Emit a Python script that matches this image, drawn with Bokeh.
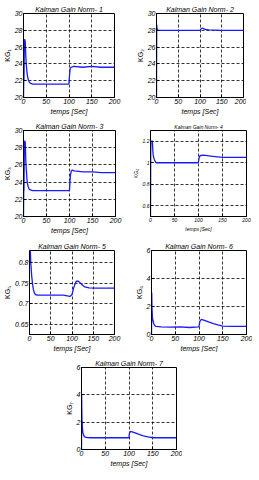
from bokeh.plotting import figure
from bokeh.layouts import column, row
from bokeh.models import FixedTicker, Range1d
from bokeh.embed import file_html
from bokeh.resources import INLINE

# ---- data ----
x_ticks = [0, 50, 100, 150, 200]
x_label = "temps [Sec]"

t1 = [0, 0.5, 1, 2, 3, 4, 5, 6, 8, 10, 12, 15, 20, 30, 50, 70, 90, 99, 100, 101, 102, 103, 105, 110, 130, 150, 170, 200]
kg1 = [20.0, 21.9, 22.0, 26.9, 26.9, 26.5, 25.0, 24.0, 22.8, 22.2, 21.9, 21.7, 21.6, 21.6, 21.6, 21.6, 21.6, 21.6, 21.7, 22.5, 23.2, 23.5, 23.6, 23.7, 23.6, 23.7, 23.6, 23.6]

t2 = [0, 0.5, 1, 2, 3, 5, 10, 50, 100, 102, 105, 108, 112, 120, 150, 200]
kg2 = [20.0, 28.7, 28.3, 28.1, 28.0, 28.0, 28.0, 28.0, 28.0, 28.15, 28.25, 28.2, 28.1, 28.05, 28.0, 28.0]

t3 = [0, 0.5, 1, 2, 3, 4, 5, 6, 8, 10, 12, 15, 20, 50, 80, 99, 100, 101, 102, 104, 106, 110, 130, 150, 170, 200]
kg3 = [20.0, 23.0, 23.0, 28.7, 28.8, 28.5, 26.5, 25.5, 24.0, 23.5, 23.2, 23.1, 23.0, 23.0, 23.0, 23.0, 23.1, 24.0, 24.8, 25.3, 25.4, 25.3, 25.2, 25.2, 25.1, 25.1]

t4 = [0, 0.5, 1, 3, 4, 5, 6, 8, 10, 12, 15, 30, 60, 99, 100, 101, 103, 110, 130, 150, 170, 200]
kg4 = [0.5, 1.1, 1.2, 1.2, 1.2, 1.1, 1.06, 1.03, 1.01, 1.0, 1.0, 1.0, 1.0, 1.0, 1.01, 1.04, 1.065, 1.07, 1.06, 1.05, 1.05, 1.05]

t5 = [0, 1, 2, 3, 5, 7, 9, 12, 15, 20, 50, 80, 95, 100, 103, 106, 110, 115, 120, 125, 130, 140, 160, 180, 200]
kg5 = [0.9, 0.88, 0.83, 0.80, 0.77, 0.75, 0.735, 0.725, 0.722, 0.721, 0.721, 0.721, 0.718, 0.722, 0.735, 0.745, 0.755, 0.755, 0.75, 0.745, 0.741, 0.739, 0.738, 0.738, 0.738]

t6 = [0, 0.5, 1, 2, 3, 5, 8, 10, 20, 40, 60, 80, 99, 100, 102, 105, 110, 120, 130, 140, 150, 170, 200]
kg6 = [0.0, 3.0, 2.0, 1.2, 1.0, 0.75, 0.6, 0.58, 0.55, 0.52, 0.55, 0.5, 0.55, 0.6, 0.95, 1.08, 1.02, 0.9, 0.78, 0.68, 0.6, 0.58, 0.58]

t7 = [0, 0.3, 0.6, 1, 2, 3, 5, 8, 12, 20, 50, 80, 99, 100, 101, 103, 110, 120, 130, 140, 150, 170, 200]
kg7 = [0.0, 4.0, 3.0, 2.2, 1.6, 1.2, 1.0, 0.9, 0.87, 0.86, 0.86, 0.86, 0.86, 0.9, 1.2, 1.32, 1.25, 1.12, 1.0, 0.92, 0.86, 0.86, 0.86]

titles = ["Kalman Gain Norm- 1", "Kalman Gain Norm- 2", "Kalman Gain Norm- 3", "Kalman Gain Norm- 4",
          "Kalman Gain Norm- 5", "Kalman Gain Norm- 6", "Kalman Gain Norm- 7"]
y_labels = ["KG\u2081", "KG\u2082", "KG\u2083", "KG\u2084", "KG\u2085", "KG\u2086", "KG\u2087"]

y_ranges = [(20, 30), (20, 30), (20, 30), (0.5, 1.3), (0.625, 0.83), (0, 6), (0, 6)]
y_ticks = [[20, 22, 24, 26, 28, 30], [20, 22, 24, 26, 28, 30], [20, 22, 24, 26, 28, 30],
           [0.6, 0.8, 1, 1.2], [0.65, 0.7, 0.75, 0.8], [0, 2, 4, 6], [0, 2, 4, 6]]
y_tick_labels = [["20", "22", "24", "26", "28", "30"], ["20", "22", "24", "26", "28", "30"],
                 ["20", "22", "24", "26", "28", "30"], ["0.6", "0.8", "1", "1.2"],
                 ["0.65", "0.7", "0.75", "0.8"], ["0", "2", "4", "6"], ["0", "2", "4", "6"]]

FONT = "Liberation Sans"
BLUE = "#1a1aff"


def make(i, t, y, fw, fh, bl, br, bt, bb, fs="7px"):
    p = figure(frame_width=fw, frame_height=fh,
               x_range=Range1d(0, 200), y_range=Range1d(*y_ranges[i]),
               output_backend="svg", toolbar_location=None,
               min_border_left=bl, min_border_right=br,
               min_border_top=bt, min_border_bottom=bb,
               background_fill_color="white", border_fill_color="white")
    p.line(t, y, line_color=BLUE, line_width=1.3)
    p.title.text = titles[i]
    p.title.align = "center"
    p.title.text_font = FONT
    p.title.text_font_size = fs
    p.title.text_font_style = "italic"
    p.title.text_color = "black"
    p.title.standoff = 2
    p.title.offset = 0
    p.outline_line_color = "black"
    p.outline_line_alpha = 1.0
    p.outline_line_width = 1

    p.xaxis.ticker = FixedTicker(ticks=x_ticks)
    p.yaxis.ticker = FixedTicker(ticks=y_ticks[i])
    p.yaxis.major_label_overrides = {v: s for v, s in zip(y_ticks[i], y_tick_labels[i])}
    p.xaxis.axis_label = x_label
    p.yaxis.axis_label = y_labels[i]
    for ax in (p.xaxis[0], p.yaxis[0]):
        ax.major_label_text_font = FONT
        ax.major_label_text_font_size = fs
        ax.major_label_text_font_style = "italic"
        ax.axis_label_text_font = FONT
        ax.axis_label_text_font_size = fs
        ax.major_tick_in = 3
        ax.major_tick_out = 0
        ax.minor_tick_in = 0
        ax.minor_tick_out = 0
        ax.major_label_standoff = 1
        ax.axis_label_standoff = 1
        ax.axis_line_color = "black"
        ax.major_tick_line_color = "black"
        ax.major_label_text_color = "black"
        ax.axis_label_text_color = "black"
    p.xaxis.axis_label_text_font_style = "italic"
    p.yaxis.axis_label_text_font_style = "normal"
    for g in (p.xgrid[0], p.ygrid[0]):
        g.grid_line_color = "black"
        g.grid_line_dash = "3 2"
        g.grid_line_width = 0.8
        g.grid_line_alpha = 1.0
    return p


f1 = make(0, t1, kg1, fw=91, fh=84, bl=20, br=11, bt=13, bb=21)
f2 = make(1, t2, kg2, fw=87, fh=84, bl=31, br=3, bt=13, bb=21)
f3 = make(2, t3, kg3, fw=92, fh=86, bl=20, br=10, bt=12, bb=20)
f4 = make(3, t4, kg4, fw=96, fh=86, bl=25, br=6, bt=12, bb=20, fs="5px")
f5 = make(4, t5, kg5, fw=85, fh=84, bl=25, br=12, bt=14, bb=16)
f6 = make(5, t6, kg6, fw=95, fh=84, bl=25, br=6, bt=12, bb=18)
f7 = make(6, t7, kg7, fw=95, fh=82, bl=81, br=6, bt=13, bb=19)

layout = column(row(f1, f2), row(f3, f4), row(f5, f6), row(f7))

open("out.html", "w").write(file_html(layout, INLINE))
